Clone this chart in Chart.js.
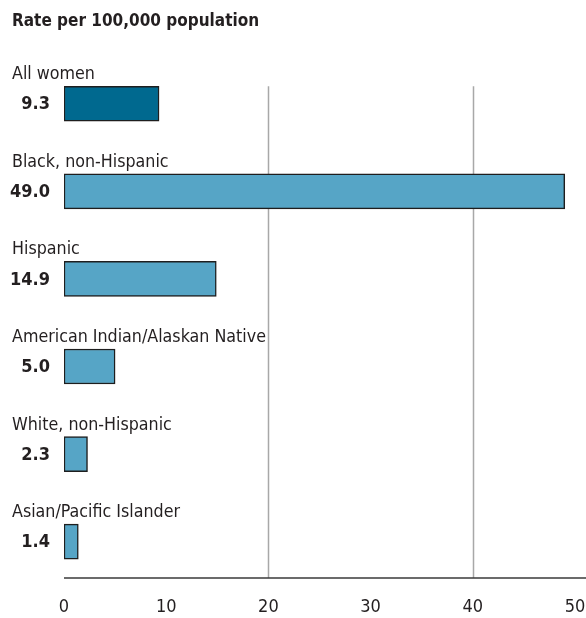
<!DOCTYPE html>
<html>
<head>
<meta charset="utf-8">
<script src="https://cdn.jsdelivr.net/npm/chart.js@4/dist/chart.umd.min.js"></script>
<style>
  body { margin: 0; background: #fff; }
</style>
</head>
<body>
<canvas id="rates" width="586" height="618"></canvas>
<script>
const FONT = '"Liberation Sans Narrow", "DejaVu Sans Condensed", sans-serif'
const TEXT_COLOR = "#231f20"

const categories = ["All women", "Black, non-Hispanic", "Hispanic", "American Indian/Alaskan Native", "White, non-Hispanic", "Asian/Pacific Islander"]
const rates = [9.3, 49.0, 14.9, 5.0, 2.3, 1.4]
const barColors = ["#00698f", "#56a5c6", "#56a5c6", "#56a5c6", "#56a5c6", "#56a5c6"]
const xTicks = [0, 10, 20, 30, 40, 50]
const gridValues = [20, 40]
const chartTitle = "Rate per 100,000 population"

const BAR_HEIGHT = 35

// title, category names above bars, values on the left, grid + axis line
const labelsPlugin = {
    id: "labelsPlugin",
    beforeDatasetsDraw(chart) {
        const ctx = chart.ctx
        const x = chart.scales.x
        const y = chart.scales.y
        const top = y.getPixelForValue(0) - BAR_HEIGHT / 2
        const axisY = y.getPixelForValue(categories.length - 1) + BAR_HEIGHT / 2 + 19
        ctx.save()
        ctx.strokeStyle = "#a8a8a8"
        ctx.lineWidth = 1.5
        gridValues.forEach(v => {
            const px = Math.round(x.getPixelForValue(v)) + 0.5
            ctx.beginPath()
            ctx.moveTo(px, top)
            ctx.lineTo(px, axisY)
            ctx.stroke()
        })
        ctx.strokeStyle = "#3a3a3a"
        ctx.beginPath()
        ctx.moveTo(x.getPixelForValue(0), axisY)
        ctx.lineTo(chart.width, axisY)
        ctx.stroke()
        ctx.restore()
    },
    afterDatasetsDraw(chart) {
        const ctx = chart.ctx
        const x = chart.scales.x
        const y = chart.scales.y
        ctx.save()
        ctx.fillStyle = TEXT_COLOR
        ctx.textBaseline = "alphabetic"
        ctx.textAlign = "left"
        ctx.font = "bold 17px " + FONT
        ctx.fillText(chartTitle, 12, 26)

        categories.forEach((name, i) => {
            const cy = y.getPixelForValue(i)
            ctx.font = "17.7px " + FONT
            ctx.textAlign = "left"
            ctx.textBaseline = "alphabetic"
            ctx.fillText(name, 12, cy - BAR_HEIGHT / 2 - 7)
            ctx.font = "bold 18px " + FONT
            ctx.textAlign = "right"
            ctx.textBaseline = "middle"
            ctx.fillText(rates[i].toFixed(1), x.getPixelForValue(0) - 14, cy + 1)
        })
        ctx.restore()
    }
}

new Chart(document.querySelector("#rates"), {
    type: "bar",
    data: {
        labels: categories,
        datasets: [{
            data: rates,
            backgroundColor: barColors,
            borderColor: "#1e1e1e",
            borderWidth: 1.5,
            borderSkipped: false,
            barThickness: BAR_HEIGHT
        }]
    },
    options: {
        indexAxis: "y",
        responsive: false,
        animation: false,
        layout: {
            padding: { top: 60, left: 64, right: 11, bottom: 0 }
        },
        plugins: {
            legend: { display: false },
            tooltip: { enabled: false }
        },
        scales: {
            x: {
                min: 0,
                max: 50,
                afterBuildTicks: (scale) => {
                    scale.ticks = xTicks.map(v => ({ value: v }))
                },
                afterFit: (scale) => {
                    scale.height = 32.6
                    scale.paddingLeft = 0
                    scale.paddingRight = 0
                },
                grid: { display: false, drawTicks: false },
                border: { display: false },
                ticks: {
                    padding: 11,
                    color: TEXT_COLOR,
                    font: { family: FONT, size: 18 }
                }
            },
            y: {
                display: false
            }
        }
    },
    plugins: [labelsPlugin]
})
</script>
</body>
</html>
